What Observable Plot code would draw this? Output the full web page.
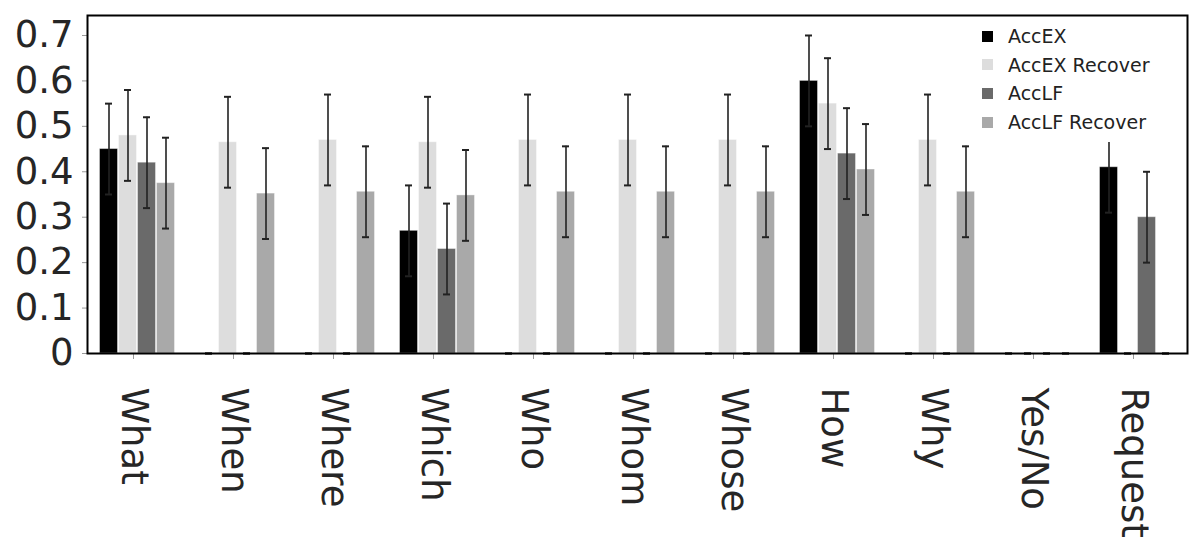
<!DOCTYPE html>
<html>
<head>
<meta charset="utf-8">
<script src="https://cdn.jsdelivr.net/npm/d3@7"></script>
<script src="https://cdn.jsdelivr.net/npm/@observablehq/plot@0.6"></script>
<style>
  body { margin: 0; background: white; font-family: "DejaVu Sans", sans-serif; }
  #wrap { position: relative; width: 1200px; height: 550px; }
  #legend { position: absolute; left: 972px; top: 21px; width: 205px; height: 121px; background: white; }
  .item { position: absolute; left: 0; height: 20px; display: flex; align-items: center; font-size: 19px; color: #222; white-space: nowrap; }
  .sw { width: 11px; height: 11px; margin-left: 10px; margin-right: 15px; }
  svg g[aria-label="y-axis tick"] path, svg g[aria-label="fx-axis tick"] path { stroke: #999; }
</style>
</head>
<body>
<div id="wrap"><div id="chart"></div><div id="legend"></div></div>
<script>
const categories = ["What", "When", "Where", "Which", "Who", "Whom", "Whose", "How", "Why", "Yes/No", "Request"];
const seriesNames = ["AccEX", "AccEX Recover", "AccLF", "AccLF Recover"];
const seriesColors = ["#000000", "#dddddd", "#6a6a6a", "#a9a9a9"];

const accEX        = [0.45, 0, 0, 0.27, 0, 0, 0, 0.60, 0, 0, 0.41];
const accEXRecover = [0.48, 0.465, 0.47, 0.465, 0.47, 0.47, 0.47, 0.55, 0.47, 0, 0];
const accLF        = [0.42, 0, 0, 0.23, 0, 0, 0, 0.44, 0, 0, 0.30];
const accLFRecover = [0.375, 0.352, 0.356, 0.348, 0.356, 0.356, 0.356, 0.405, 0.356, 0, 0];

const errEX        = [0.1, 0, 0, 0.1, 0, 0, 0, 0.1, 0, 0, 0.1];
const errEXRecover = [0.1, 0.1, 0.1, 0.1, 0.1, 0.1, 0.1, 0.1, 0.1, 0, 0];
const errLF        = [0.1, 0, 0, 0.1, 0, 0, 0, 0.1, 0, 0, 0.1];
const errLFRecover = [0.1, 0.1, 0.1, 0.1, 0.1, 0.1, 0.1, 0.1, 0.1, 0, 0];

const yTicks = [0, 0.1, 0.2, 0.3, 0.4, 0.5, 0.6, 0.7];
const yTickLabels = ["0", "0.1", "0.2", "0.3", "0.4", "0.5", "0.6", "0.7"];

const seriesValues = [accEX, accEXRecover, accLF, accLFRecover];
const seriesErrors = [errEX, errEXRecover, errLF, errLFRecover];

const data = [];
categories.forEach((c, i) => {
  seriesNames.forEach((s, j) => {
    data.push({cat: c, series: s, value: seriesValues[j][i], err: seriesErrors[j][i]});
  });
});

const chart = Plot.plot({
  width: 1200,
  height: 550,
  marginLeft: 86,
  marginRight: 13,
  marginTop: 15,
  marginBottom: 197,
  style: {fontFamily: "DejaVu Sans", fontSize: "37px", color: "#262626", background: "white"},
  fx: {domain: categories, padding: 0, label: null, axis: null},
  x: {domain: seriesNames, axis: null, paddingInner: 0, paddingOuter: 0.534},
  y: {domain: [0, 0.744], ticks: yTicks, tickFormat: (d) => yTickLabels[yTicks.indexOf(d)], tickSize: 5, tickPadding: 9, label: null},
  color: {domain: seriesNames, range: seriesColors},
  marks: [
    Plot.axisFx({anchor: "bottom", tickRotate: 90, tickSize: 6, tickPadding: 28, dx: -4, label: null}),
    Plot.barY(data, {fx: "cat", x: "series", y: "value", fill: "series", stroke: "white", strokeOpacity: 0.4, strokeWidth: 1, insetLeft: 0.5, insetRight: 0.5}),
    Plot.ruleX(data, {fx: "cat", x: "series", y1: (d) => d.value - d.err, y2: (d) => d.value + d.err, stroke: "#222", strokeWidth: 1.6}),
    Plot.tickY(data, {fx: "cat", x: "series", y: (d) => d.value - d.err, stroke: "#222", strokeWidth: 2, insetLeft: 6, insetRight: 6}),
    Plot.tickY(data, {fx: "cat", x: "series", y: (d) => d.value + d.err, stroke: "#222", strokeWidth: 2, insetLeft: 6, insetRight: 6}),
    Plot.frame({facet: "super", stroke: "black", strokeWidth: 2})
  ]
});
document.getElementById("chart").appendChild(chart);

const legend = document.getElementById("legend");
seriesNames.forEach((s, j) => {
  const item = document.createElement("div");
  item.className = "item";
  item.style.top = (5 + j * 28.7) + "px";
  const sw = document.createElement("span");
  sw.className = "sw";
  sw.style.background = seriesColors[j];
  const t = document.createElement("span");
  t.textContent = s;
  item.appendChild(sw);
  item.appendChild(t);
  legend.appendChild(item);
});
</script>
</body>
</html>
